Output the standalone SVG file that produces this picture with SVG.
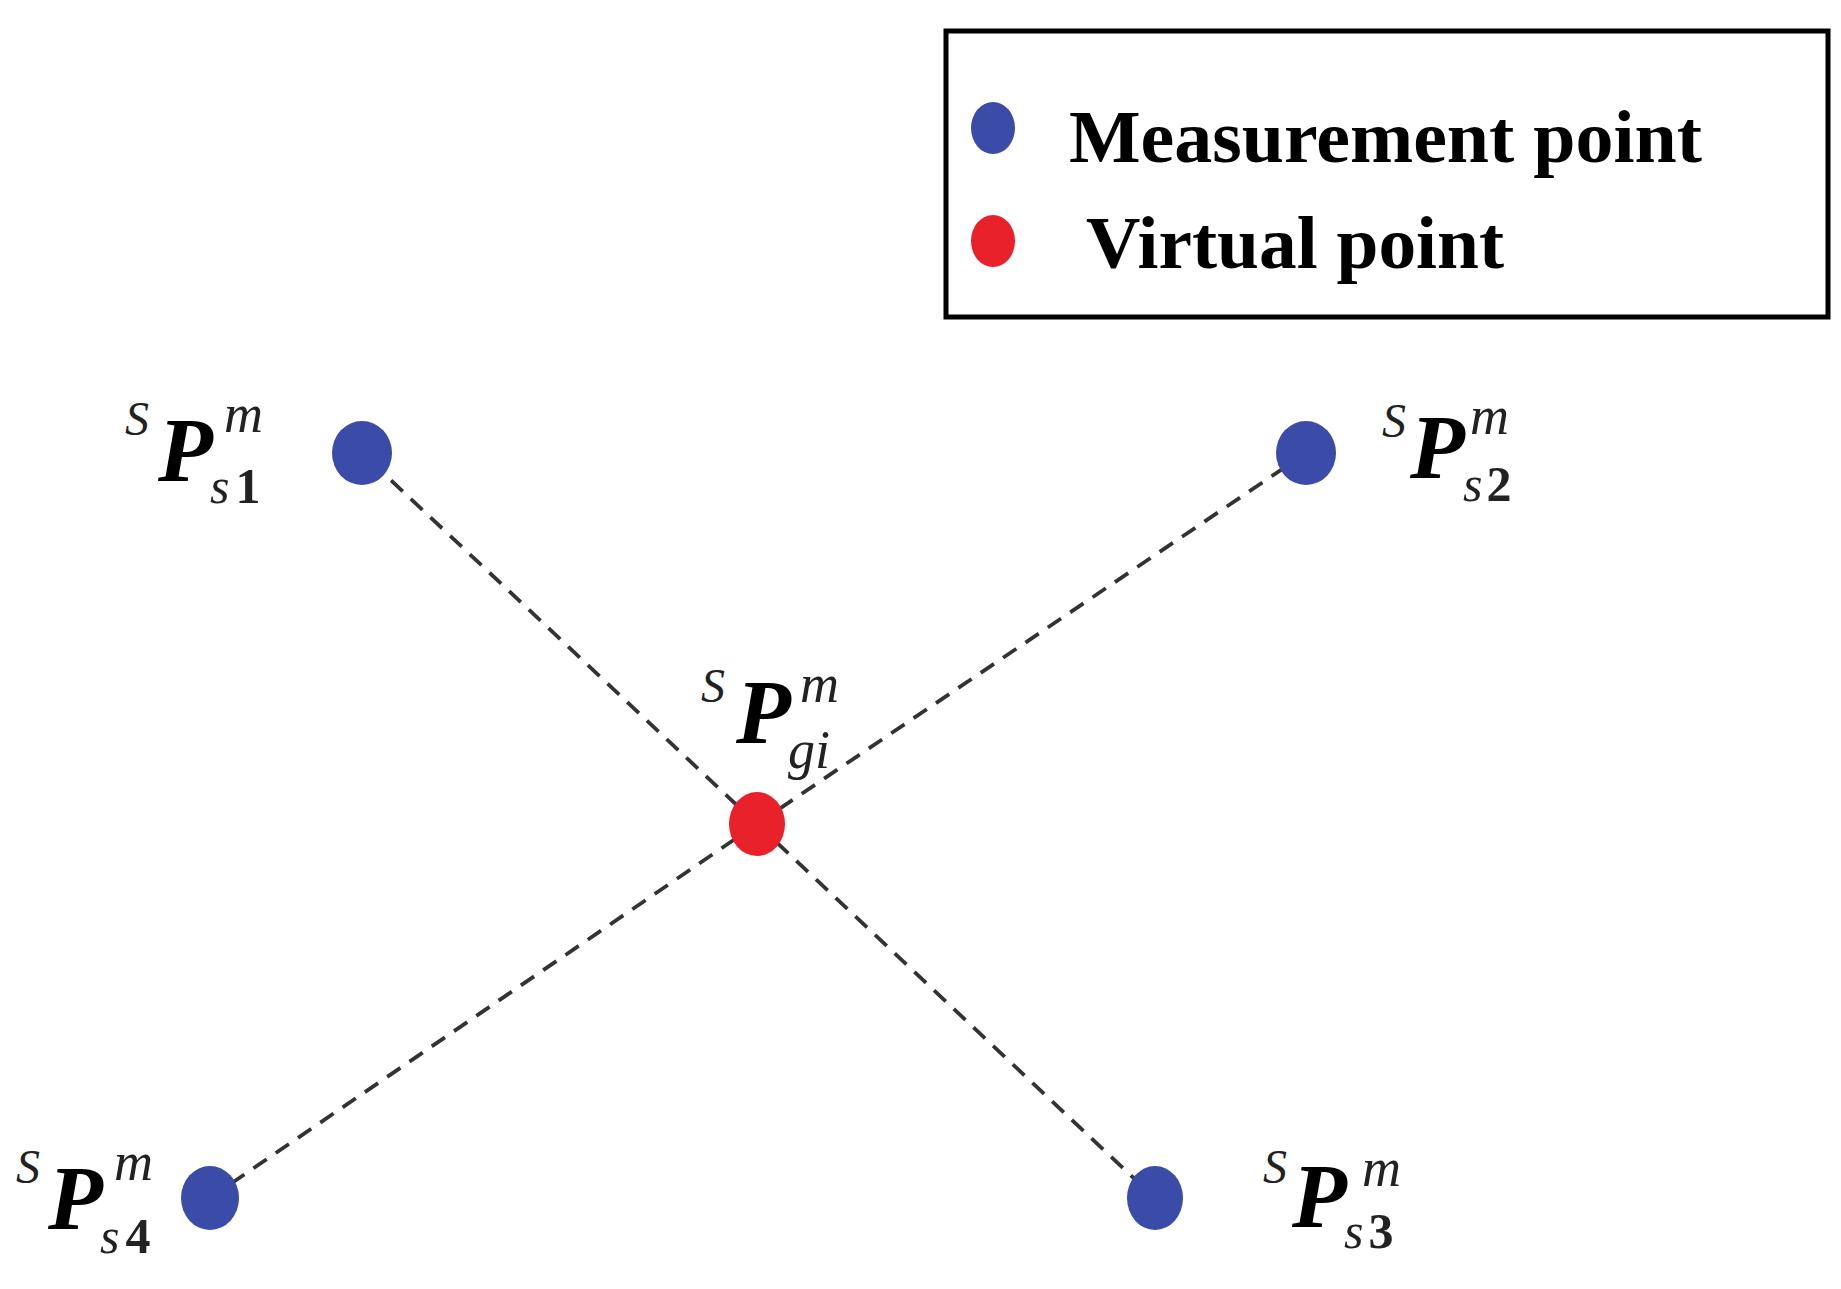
<svg xmlns="http://www.w3.org/2000/svg" width="1841" height="1289" viewBox="0 0 1841 1289">
<style>
.bg{fill:#ffffff}
.meas{fill:#3b4ba8}
.virt{fill:#e8212b}
.link{stroke:#333333;stroke-width:3.8;stroke-dasharray:16 11;fill:none}
.legend-box{fill:#ffffff;stroke:#000000;stroke-width:5}
.legend-text{font-family:"Liberation Serif","Times New Roman",serif;font-weight:bold;font-size:74px;fill:#000}
.pre{font-family:"Liberation Serif","Times New Roman",serif;font-style:italic;font-size:48px;fill:#222}
.big{font-family:"Liberation Serif","Times New Roman",serif;font-style:italic;font-weight:bold;font-size:90px;fill:#000}
.sup{font-family:"Liberation Serif","Times New Roman",serif;font-style:italic;font-size:54px;fill:#222}
.sub{font-family:"Liberation Serif","Times New Roman",serif;font-size:50px;fill:#222}
.sub .it{font-style:italic}
.sub .num{font-weight:bold}
</style>
<rect class="bg" x="0" y="0" width="1841" height="1289"/>

<g id="legend">
  <rect class="legend-box" x="946" y="31" width="882" height="286"/>
  <ellipse class="meas" cx="993" cy="128" rx="22" ry="26"/>
  <text class="legend-text" x="1069" y="162" textLength="633" lengthAdjust="spacingAndGlyphs">Measurement point</text>
  <ellipse class="virt" cx="993" cy="241" rx="22" ry="26"/>
  <text class="legend-text" x="1086" y="268" textLength="418" lengthAdjust="spacingAndGlyphs">Virtual point</text>
</g>

<g id="connectors">
  <line class="link" x1="757" y1="824" x2="362" y2="453"/>
  <line class="link" x1="757" y1="824" x2="1306" y2="453"/>
  <line class="link" x1="757" y1="824" x2="210" y2="1198"/>
  <line class="link" x1="757" y1="824" x2="1155" y2="1198"/>
</g>

<g id="node-ps1">
  <ellipse class="meas" cx="362" cy="453" rx="30" ry="32"/>
  <text class="pre" x="125" y="435">S</text>
  <text class="big" x="158" y="481">P</text>
  <text class="sup" x="224" y="432">m</text>
  <text class="sub" x="210" y="503"><tspan class="it">s</tspan><tspan class="num" dx="6">1</tspan></text>
</g>

<g id="node-ps2">
  <ellipse class="meas" cx="1306" cy="453" rx="30" ry="32"/>
  <text class="pre" x="1382" y="437">S</text>
  <text class="big" x="1410" y="478">P</text>
  <text class="sup" x="1470" y="434">m</text>
  <text class="sub" x="1463" y="501"><tspan class="it">s</tspan><tspan class="num" dx="4">2</tspan></text>
</g>

<g id="node-pgi">
  <ellipse class="virt" cx="757" cy="824" rx="28" ry="32"/>
  <text class="pre" x="701" y="702">S</text>
  <text class="big" x="736" y="743">P</text>
  <text class="sup" x="800" y="702">m</text>
  <text class="sup" x="788" y="768">gi</text>
</g>

<g id="node-ps4">
  <ellipse class="meas" cx="210" cy="1198" rx="29" ry="32"/>
  <text class="pre" x="16" y="1183">S</text>
  <text class="big" x="48" y="1229">P</text>
  <text class="sup" x="114" y="1180">m</text>
  <text class="sub" x="100" y="1253"><tspan class="it">s</tspan><tspan class="num" dx="6">4</tspan></text>
</g>

<g id="node-ps3">
  <ellipse class="meas" cx="1155" cy="1198" rx="28" ry="32"/>
  <text class="pre" x="1263" y="1183">S</text>
  <text class="big" x="1292" y="1227">P</text>
  <text class="sup" x="1362" y="1186">m</text>
  <text class="sub" x="1344" y="1248"><tspan class="it">s</tspan><tspan class="num" dx="5">3</tspan></text>
</g>
</svg>
